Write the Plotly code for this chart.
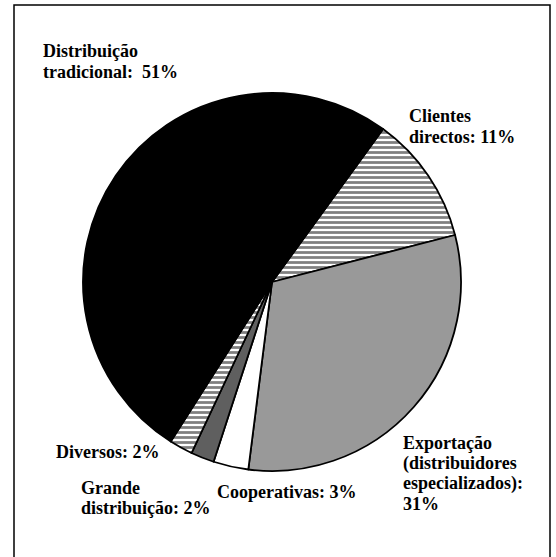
import plotly.graph_objects as go

# Data
labels = ["Clientes directos", "Exportação (distribuidores especializados)", "Cooperativas",
          "Grande distribuição", "Diversos", "Distribuição tradicional"]
values = [11, 31, 3, 2, 2, 51]
display = ["Clientes|directos: {v}%",
           "Exportação|(distribuidores|especializados):|{v}%",
           "Cooperativas: {v}%",
           "Grande|distribuição: {v}%",
           "Diversos: {v}%",
           "Distribuição|tradicional:  {v}%"]
colors = ["white", "#999999", "white", "#5f5f5f", "white", "black"]
shapes_pat = ["-", "", "", "", "-", ""]

W, H = 556, 557
cx, cy, r = 272, 282, 189

fig = go.Figure(go.Pie(
    labels=labels, values=values, sort=False, direction="clockwise", rotation=36,
    textinfo="none", hoverinfo="label+percent",
    marker=dict(colors=colors, line=dict(color="black", width=1.8),
                pattern=dict(shape=shapes_pat, fgcolor="black", bgcolor="white",
                             size=5, solidity=0.55, fillmode="overlay")),
    domain=dict(x=[(cx - r) / W, (cx + r) / W], y=[1 - (cy + r) / H, 1 - (cy - r) / H]),
    showlegend=False,
))

# label positions (pixels: left x, first baseline y)
pos = [(408, 122), (402, 448), (216, 497), (80, 493), (55, 457), (42, 57)]
LH = 20.5
font = dict(family="Liberation Serif", size=18, color="black")
for i, (x, y) in enumerate(pos):
    lines = display[i].format(v=values[i]).split("|")
    for j, ln in enumerate(lines):
        yb = y + j * LH
        fig.add_annotation(x=x / W, y=1 - (yb - 5.5) / H, xref="paper", yref="paper",
                           xanchor="left", yanchor="middle", align="left", showarrow=False,
                           text="<b>" + ln.replace("  ", "&nbsp; ") + "</b>", font=font,
                           borderpad=0)

fig.add_shape(type="rect", xref="paper", yref="paper",
              x0=14 / W, x1=550 / W, y0=-0.05, y1=1 - 5 / H,
              line=dict(color="black", width=1.5), fillcolor="rgba(0,0,0,0)")

fig.update_layout(width=W, height=H, margin=dict(l=0, r=0, t=0, b=0),
                  paper_bgcolor="white", plot_bgcolor="white")
fig.write_html("out.html", config={"displayModeBar": False},
               post_script="document.body.style.margin='0';")
